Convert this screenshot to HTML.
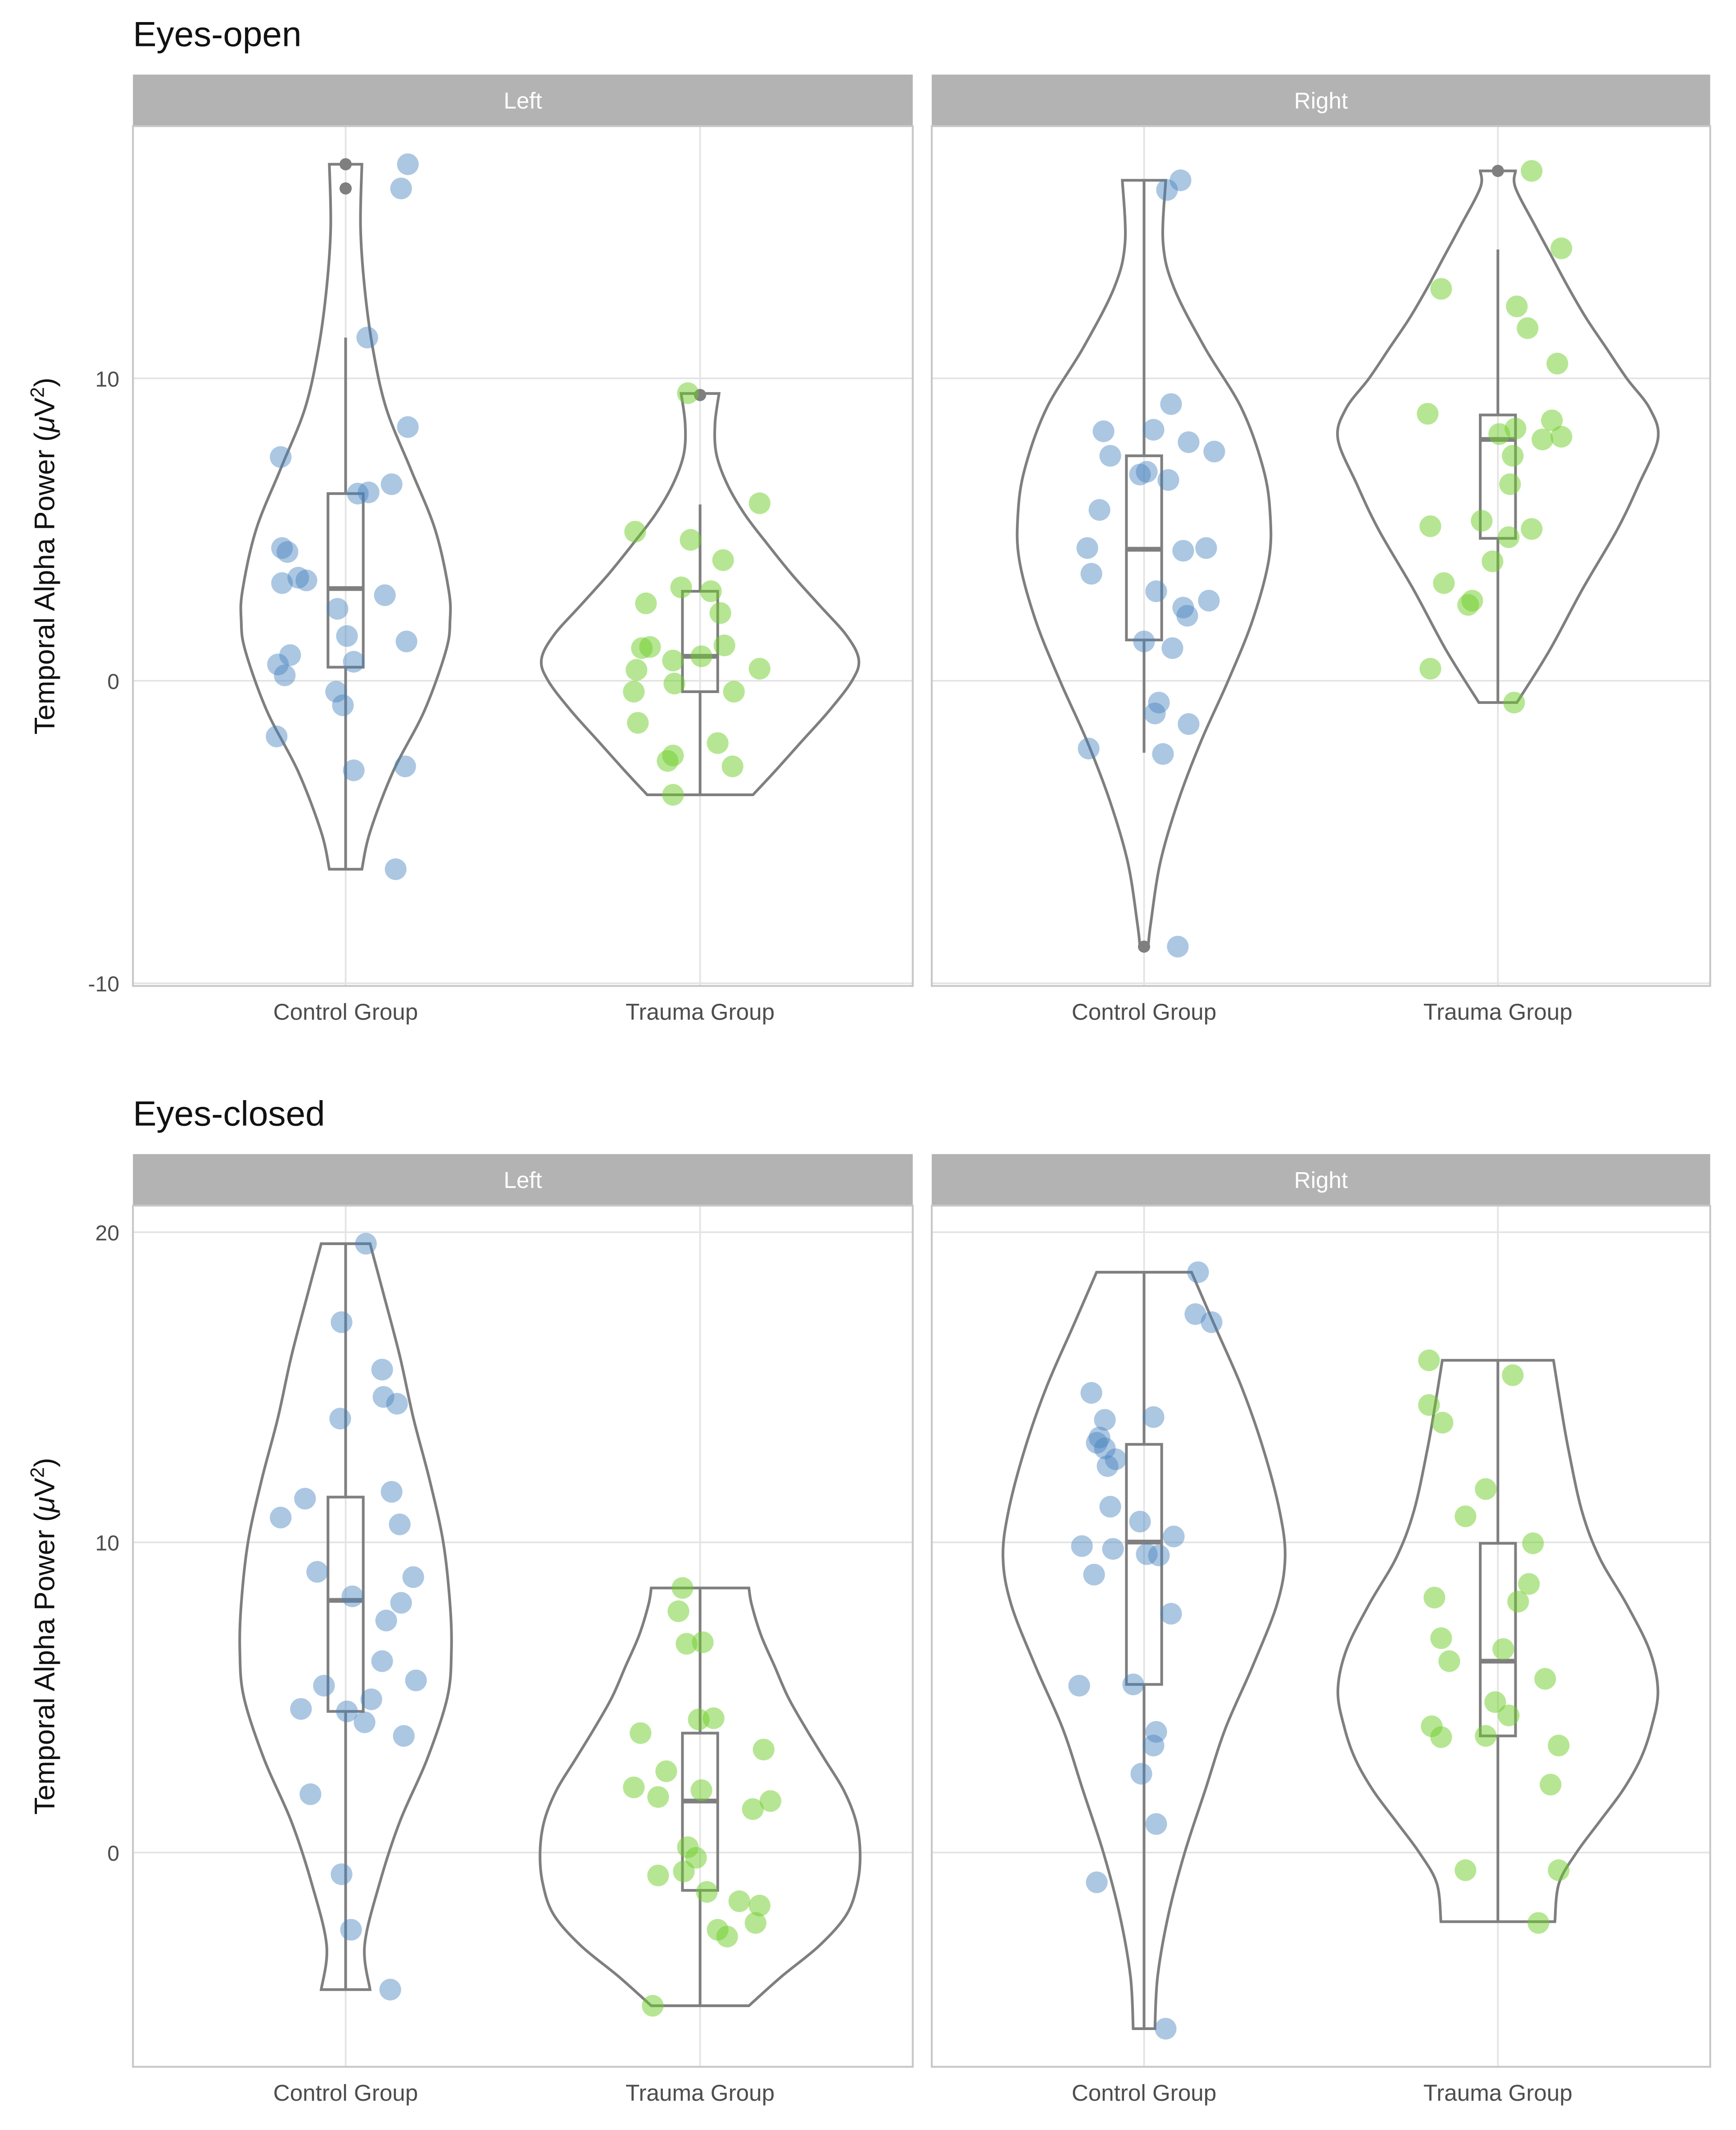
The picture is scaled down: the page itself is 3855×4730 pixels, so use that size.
<!DOCTYPE html>
<html><head><meta charset="utf-8"><style>
html,body{margin:0;padding:0;background:#fff;}
svg{display:block;font-family:"Liberation Sans",sans-serif;}
</style></head><body>
<svg id="chart" xmlns="http://www.w3.org/2000/svg" width="3855" height="4730" viewBox="0 0 1280 1570.6">
<rect width="1280" height="1570.6" fill="#fff"/>
<g id="root"></g>
</svg>
<script>
// ===== DATA =====
const categories = ["Control Group","Trauma Group"];
const sides = ["Left","Right"];
const conditions = ["Eyes-open","Eyes-closed"];
const yTicksOpen = [-10,0,10];
const yTicksClosed = [0,10,20];

// Eyes-open Left Control
const eoLCVals = [17.08,16.28,11.35,8.39,7.40,6.50,6.23,6.19,4.39,4.26,3.41,3.32,3.23,2.38,2.83,1.48,1.30,0.85,0.63,0.54,0.18,-0.36,-0.81,-1.84,-2.96,-2.83,-6.23];
const eoLCJit = [46,41,16,46,-48,34,17,9,-47,-43,-35,-29,-47,-6,29,1,45,-41,6,-50,-45,-7,-2,-51,6,44,37];
const eoLCBox = [-6.23,0.45,3.05,6.19,11.35];
const eoLCOut = [16.28,17.08];
const eoLCViolY = [-6.23,-5,-3,-1,1,2,3,5,7,9,11,13,15,17.08];
const eoLCViolD = [12,18,35,58,74,77,76,66,48,30,20,14,11,12];
// Eyes-open Left Trauma
const eoLTVals = [9.51,4.93,4.66,3.99,5.87,2.56,3.09,2.96,2.24,1.08,1.12,0.67,1.17,0.81,0.36,-0.09,0.40,-0.36,-0.36,-1.39,-2.47,-2.65,-2.06,-2.83,-3.77];
const eoLTJit = [-9,-48,-7,17,44,-40,-14,8,15,-43,-37,-20,18,1,-47,-19,44,-49,25,-46,-20,-24,13,24,-20];
const eoLTBox = [-3.77,-0.36,0.81,2.96,5.83];
const eoLTOut = [9.45];
const eoLTViolY = [-3.77,-3,-2,-1,0,0.7,1.5,2.5,3.5,4.5,5.5,6.5,7.5,8.5,9.5];
const eoLTViolD = [39,55,75,95,112,117,108,88,68,50,33,20,12,11,14];
// Eyes-open Right Control
const eoRCVals = [16.55,16.23,9.15,8.25,8.30,7.44,7.89,7.58,6.82,6.91,6.64,5.65,4.39,4.30,4.39,3.54,2.96,2.65,2.42,2.15,1.30,1.08,-2.24,-0.72,-1.08,-1.43,-2.42,-8.79];
const eoRCJit = [27,17,20,-30,7,-25,33,52,-3,2,18,-33,-42,29,46,-39,9,48,29,32,0,21,-41,11,8,33,14,25];
const eoRCBox = [-2.38,1.35,4.35,7.44,16.55];
const eoRCOut = [-8.79];
const eoRCViolY = [-8.79,-8,-6,-4,-2,0,2,4,5.5,7,9,11,13,14.5,16.55];
const eoRCViolD = [3,5,12,25,42,62,80,92,93,88,72,45,22,14,16];
// Eyes-open Right Trauma
const eoRTVals = [16.86,14.30,12.96,12.38,11.66,10.49,8.83,8.34,8.16,8.61,7.98,8.07,7.44,6.50,5.29,5.11,5.02,4.75,3.95,3.23,2.65,2.51,0.40,-0.72];
const eoRTJit = [25,47,-42,14,22,44,-52,13,1,40,33,47,11,9,-12,-50,25,8,-4,-40,-19,-22,-50,12];
const eoRTBox = [-0.72,4.71,7.98,8.79,14.26];
const eoRTOut = [16.86];
const eoRTViolY = [-0.72,1,3,5,6.5,8,9,10,11,12,13,14,15,16.3,16.86];
const eoRTViolD = [14,38,62,88,104,118,112,95,80,65,52,40,28,13,13];
// Eyes-closed Left Control
const ecLCVals = [19.63,17.10,15.57,14.69,14.47,13.99,11.63,11.41,10.80,10.58,8.88,9.05,8.26,8.05,7.48,6.17,5.38,5.55,4.94,4.63,4.55,4.20,3.76,1.88,-0.70,-2.49,-4.42];
const ecLCJit = [15,-3,27,28,38,-4,34,-30,-48,40,50,-21,5,41,30,27,-16,52,19,-33,1,14,43,-26,-3,4,33];
const ecLCBox = [-4.42,4.55,8.13,11.46,19.63];
const ecLCOut = [];
const ecLCViolY = [-4.42,-3,-1,1,3,5,6.5,8,10,12,14,16,18,19.63];
const ecLCViolD = [18,14,25,40,60,75,78,77,72,62,50,40,28,18];
// Eyes-closed Left Trauma
const ecLTVals = [8.53,7.78,6.78,6.73,4.29,4.33,3.85,3.32,2.62,2.10,1.79,2.01,1.66,1.40,0.17,-0.17,-0.74,-0.61,-1.27,-1.57,-1.71,-2.27,-2.49,-2.71,-4.94];
const ecLTJit = [-13,-16,2,-10,-1,10,-44,47,-25,-49,-31,1,52,39,-9,-3,-31,-12,5,29,44,41,13,20,-35];
const ecLTBox = [-4.94,-1.22,1.66,3.85,8.53];
const ecLTOut = [];
const ecLTViolY = [-4.94,-4,-3,-2,-1,0,1,2,3,4,5,6,7,8,8.53];
const ecLTViolD = [36,60,88,108,116,118,115,106,92,78,65,55,45,38,36];
// Eyes-closed Right Control
const ecRCVals = [18.71,17.36,17.10,14.82,14.04,13.95,13.38,13.21,13.03,12.68,12.46,11.15,10.67,9.88,9.79,10.19,9.62,9.58,8.96,7.70,5.42,5.38,3.89,3.45,2.54,0.92,-0.96,-5.68];
const ecRCJit = [40,38,50,-39,7,-29,-33,-35,-29,-21,-27,-25,-3,-46,-23,22,2,11,-37,20,-8,-48,9,7,-2,9,-35,16];
const ecRCBox = [-5.68,5.42,10.01,13.16,18.71];
const ecRCOut = [];
const ecRCViolY = [-5.68,-4,-2,0,2,4,6,8,9.5,11,13,15,17,18.71];
const ecRCViolD = [8,10,18,30,45,60,80,98,104,100,88,72,52,35];
// Eyes-closed Right Trauma
const ecRTVals = [15.87,15.39,14.43,13.86,11.72,10.84,9.97,8.66,8.22,8.09,6.91,6.56,6.17,5.60,4.85,4.42,4.07,3.72,3.76,3.45,2.19,-0.57,-0.57,-2.27];
const ecRTJit = [-51,11,-51,-41,-9,-24,26,23,-47,15,-42,4,-36,35,-2,8,-49,-42,-9,45,39,-24,45,30];
const ecRTBox = [-2.23,3.76,6.17,9.97,15.87];
const ecRTOut = [];
const ecRTViolY = [-2.23,-1,0,1,2,3,4,5.2,6.5,8,9.5,11,13,14.5,15.87];
const ecRTViolD = [42,45,58,75,92,105,113,118,112,95,75,62,52,46,41];

// ===== LAYOUT =====
const NS="http://www.w3.org/2000/svg";
const root=document.getElementById('root');
function mk(tag,attrs,parent){const e=document.createElementNS(NS,tag);for(const k in attrs)e.setAttribute(k,attrs[k]);(parent||root).appendChild(e);return e;}
function smooth(pts){
  // Catmull-Rom to cubic bezier
  let d='M'+pts[0][0]+','+pts[0][1];
  for(let i=0;i<pts.length-1;i++){
    const p0=pts[Math.max(0,i-1)],p1=pts[i],p2=pts[i+1],p3=pts[Math.min(pts.length-1,i+2)];
    const c1x=p1[0]+(p2[0]-p0[0])/6,c1y=p1[1]+(p2[1]-p0[1])/6;
    const c2x=p2[0]-(p3[0]-p1[0])/6,c2y=p2[1]-(p3[1]-p1[1])/6;
    d+='C'+c1x+','+c1y+' '+c2x+','+c2y+' '+p2[0]+','+p2[1];
  }
  return d;
}
const panelsX=[[98,673],[687,1261]];
const rows=[
 {title:conditions[0],titleY:34,stripY:55,top:93,bottom:727,v0:0,y0:502,pxPer:22.3,ticks:yTicksOpen,
  groups:[[ [eoLCVals,eoLCJit,eoLCBox,eoLCOut,eoLCViolY,eoLCViolD],[eoLTVals,eoLTJit,eoLTBox,eoLTOut,eoLTViolY,eoLTViolD] ],
          [ [eoRCVals,eoRCJit,eoRCBox,eoRCOut,eoRCViolY,eoRCViolD],[eoRTVals,eoRTJit,eoRTBox,eoRTOut,eoRTViolY,eoRTViolD] ]]},
 {title:conditions[1],titleY:830,stripY:851,top:889,bottom:1524,v0:0,y0:1366,pxPer:22.87,ticks:yTicksClosed,
  groups:[[ [ecLCVals,ecLCJit,ecLCBox,ecLCOut,ecLCViolY,ecLCViolD],[ecLTVals,ecLTJit,ecLTBox,ecLTOut,ecLTViolY,ecLTViolD] ],
          [ [ecRCVals,ecRCJit,ecRCBox,ecRCOut,ecRCViolY,ecRCViolD],[ecRTVals,ecRTJit,ecRTBox,ecRTOut,ecRTViolY,ecRTViolD] ]]}
];
const fills=["rgba(70,130,190,0.45)","rgba(110,205,40,0.5)"];
const strokeC="#7f7f7f";

rows.forEach((row,ri)=>{
  const y=v=>row.y0-(v-row.v0)*row.pxPer;
  const t=mk('text',{x:98,y:row.titleY,'font-size':26,fill:'#111'});
  
  
  t.textContent=row.title;
  const cy=(row.top+row.bottom)/2;
  const yt=mk('text',{x:0,y:0,transform:`translate(40,${cy}) rotate(-90)`,'text-anchor':'middle','font-size':21,fill:'#111'});
  
  
  yt.innerHTML='Temporal Alpha Power (<tspan font-style="italic">μ</tspan>V<tspan baseline-shift="super" font-size="14">2</tspan>)';
  row.ticks.forEach(tv=>{
    const tl=mk('text',{x:88,y:y(tv)+6,'text-anchor':'end','font-size':16,fill:'#4d4d4d'});
    
    
    tl.textContent=tv;
  });
  panelsX.forEach((px,pi)=>{
    const [x1,x2]=px;
    const g=mk('g',{});
    
    
    const step=(x2-x1)/2.2;
    const xs=i=>x1+step*(0.6+i);
    mk('rect',{x:x1,y:row.stripY,width:x2-x1,height:row.top-row.stripY,fill:'#b3b3b3'},g);
    const st=mk('text',{x:(x1+x2)/2,y:(row.stripY+row.top)/2+6,'text-anchor':'middle','font-size':17,fill:'#fff'},g);
    
    
    st.textContent=sides[pi];
    row.ticks.forEach(tv=>{const yy=y(tv);mk('line',{x1:x1,x2:x2,y1:yy,y2:yy,stroke:'#e3e3e3','stroke-width':1.2},g);});
    categories.forEach((c,ci)=>{mk('line',{x1:xs(ci),x2:xs(ci),y1:row.top,y2:row.bottom,stroke:'#e3e3e3','stroke-width':1.2},g);
      const xl=mk('text',{x:xs(ci),y:row.bottom+25,'text-anchor':'middle','font-size':17,fill:'#4d4d4d'});
      
      
      xl.textContent=c;});
    row.groups[pi].forEach((grp,ci)=>{
      const [vals,jit,box,out,vy,vd]=grp;
      const cx=xs(ci);
      const right=vy.map((v,k)=>[cx+vd[k],y(v)]);
      const left=vy.map((v,k)=>[cx-vd[k],y(v)]).reverse();
      let d=smooth(right)+'L'+left[0][0]+','+left[0][1]+smooth(left).replace(/^M[^C]*/,'')+'Z';
      const vp=mk('path',{d:d,fill:'none',stroke:strokeC,'stroke-width':2},g);
      
      
      const bw=13;
      mk('line',{x1:cx,x2:cx,y1:y(box[0]),y2:y(box[1]),stroke:strokeC,'stroke-width':2},g);
      mk('line',{x1:cx,x2:cx,y1:y(box[3]),y2:y(box[4]),stroke:strokeC,'stroke-width':2},g);
      const br=mk('rect',{x:cx-bw,y:y(box[3]),width:2*bw,height:y(box[1])-y(box[3]),fill:'none',stroke:strokeC,'stroke-width':2},g);
      
      
      mk('line',{x1:cx-bw,x2:cx+bw,y1:y(box[2]),y2:y(box[2]),stroke:strokeC,'stroke-width':3.5},g);
      out.forEach(o=>{const oc=mk('circle',{cx:cx,cy:y(o),r:4.5,fill:'#7f7f7f'},g);
        
        });
      vals.forEach((v,k)=>{
        const p=mk('circle',{cx:cx+jit[k]/262*step,cy:y(v),r:8,fill:fills[ci]},g);
        
        
      });
    });
    mk('rect',{x:x1,y:row.top,width:x2-x1,height:row.bottom-row.top,fill:'none',stroke:'#c8c8c8','stroke-width':1.4},g);
  });
});
</script>
</body></html>
